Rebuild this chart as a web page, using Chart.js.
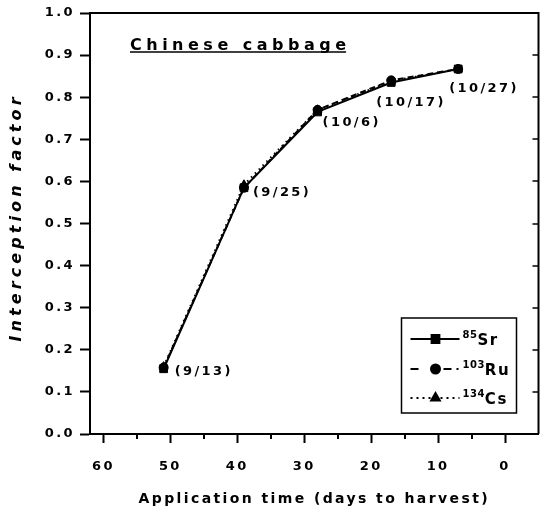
<!DOCTYPE html>
<html>
<head>
<meta charset="utf-8">
<script src="https://cdn.jsdelivr.net/npm/chart.js@4/dist/chart.umd.min.js"></script>
<style>
  html, body { margin: 0; padding: 0; background: #fff; }
  #wrap { width: 545px; height: 512px; }
</style>
</head>
<body>
<div id="wrap"><canvas id="c"></canvas></div>
<script>
// Application time, days before harvest, and the calendar date of each application
const daysToHarvest = [51, 39, 28, 17, 7];
const applicationDates = ['(9/13)', '(9/25)', '(10/6)', '(10/17)', '(10/27)'];

// Interception factor per radionuclide
const sr85  = [0.155, 0.585, 0.765, 0.835, 0.867];
const ru103 = [0.158, 0.585, 0.770, 0.840, 0.867];
const cs134 = [0.160, 0.592, 0.770, 0.838, 0.867];

// Legend labels: mass number and element
const isotopeMass = ['85', '103', '134'];
const isotopeElement = ['Sr', 'Ru', 'Cs'];

// Axis ticks
const xTickValues = [60, 50, 40, 30, 20, 10, 0];
const xMinorTickValues = [55, 45, 35, 25, 15, 5];
const yTickValues = [0, 0.1, 0.2, 0.3, 0.4, 0.5, 0.6, 0.7, 0.8, 0.9, 1.0];

const FAMILY = '"DejaVu Sans", Verdana, sans-serif';
const SPACING = '2.4px';
const Y_TITLE = 'Interception factor';
const Y_TITLE_SPACING = 4.1;

// offsets of each date label from its point (px)
const dateLabelOffsets = [[11, 3], [9, 5], [5, 11], [-15, 20], [-9, 20]];

const series = [sr85, ru103, cs134];
const styles = [
  { pointStyle: 'rect', pointRadius: 5.5, borderDash: [] },
  { pointStyle: 'circle', pointRadius: 4.5, borderDash: [6, 4] },
  { pointStyle: 'triangle', pointRadius: 5, borderDash: [1.5, 4] }
];

const datasets = series.map((vals, k) => ({
  label: isotopeMass[k] + isotopeElement[k],
  data: daysToHarvest.map((d, i) => ({ x: d, y: vals[i] })),
  borderColor: '#000',
  backgroundColor: '#000',
  borderWidth: 2,
  borderDash: styles[k].borderDash,
  pointStyle: styles[k].pointStyle,
  pointRadius: styles[k].pointRadius,
  pointBorderWidth: 1,
  tension: 0,
  fill: false
}));

// wide letter spacing used throughout
const letterSpacingPlugin = {
  id: 'letterSpacing',
  beforeLayout(chart) { chart.ctx.letterSpacing = SPACING; },
  beforeDraw(chart) { chart.ctx.letterSpacing = SPACING; }
};

// frame, inward right ticks, minor x ticks, titles, date labels and legend
const decorPlugin = {
  id: 'decor',
  afterDraw(chart) {
    const { ctx, chartArea: ca, scales } = chart;
    const xs = scales.x, ys = scales.y;
    ctx.save();
    ctx.strokeStyle = '#000';
    ctx.fillStyle = '#000';

    // top and right frame lines
    ctx.lineWidth = 2;
    ctx.beginPath();
    ctx.moveTo(ca.left, ca.top);
    ctx.lineTo(ca.right, ca.top);
    ctx.lineTo(ca.right, ca.bottom);
    ctx.stroke();

    // inward ticks on the right edge
    ctx.lineWidth = 1.5;
    ctx.beginPath();
    yTickValues.forEach(v => {
      const y = Math.round(ys.getPixelForValue(v));
      ctx.moveTo(ca.right, y);
      ctx.lineTo(ca.right - 6, y);
    });
    ctx.stroke();

    // minor x ticks
    ctx.lineWidth = 2;
    ctx.beginPath();
    xMinorTickValues.forEach(v => {
      const x = Math.round(xs.getPixelForValue(v));
      ctx.moveTo(x, ca.bottom);
      ctx.lineTo(x, ca.bottom + 5);
    });
    ctx.stroke();

    // y axis title, rotated
    ctx.save();
    ctx.letterSpacing = Y_TITLE_SPACING + 'px';
    ctx.font = 'italic bold 16px ' + FAMILY;
    ctx.textAlign = 'left';
    ctx.textBaseline = 'middle';
    const yw = ctx.measureText(Y_TITLE).width - Y_TITLE_SPACING;
    ctx.translate(17, (ca.top + ca.bottom) / 2 - 4);
    ctx.rotate(-Math.PI / 2);
    ctx.fillText(Y_TITLE, -yw / 2, 0);
    ctx.restore();

    // underlined title
    ctx.letterSpacing = '4.5px';
    ctx.font = 'bold 16px ' + FAMILY;
    ctx.textAlign = 'left';
    ctx.textBaseline = 'alphabetic';
    const title = 'Chinese cabbage';
    const tx = ca.left + 40, ty = 50;
    ctx.fillText(title, tx, ty);
    const tw = ctx.measureText(title).width - 4.5;
    ctx.lineWidth = 1.5;
    ctx.beginPath();
    ctx.moveTo(tx, ty + 2);
    ctx.lineTo(tx + tw, ty + 2);
    ctx.stroke();

    // date labels next to the points
    ctx.letterSpacing = SPACING;
    ctx.font = 'bold 13px ' + FAMILY;
    ctx.textBaseline = 'middle';
    applicationDates.forEach((txt, i) => {
      const px = xs.getPixelForValue(daysToHarvest[i]);
      const py = ys.getPixelForValue(sr85[i]);
      const [dx, dy] = dateLabelOffsets[i];
      ctx.fillText(txt, px + dx, py + dy);
    });

    // legend
    const bw = 115, bh = 95;
    const bx = ca.right - 22 - bw, by = ca.bottom - 21 - bh;
    ctx.lineWidth = 1.5;
    ctx.strokeRect(bx, by, bw, bh);
    const rows = [by + 21, by + 51, by + 80];
    const sampleDash = [[], [8, 25, 8, 5, 2, 60], [2, 4]];
    datasets.forEach((ds, k) => {
      const ry = rows[k];
      ctx.lineWidth = 2;
      ctx.setLineDash(sampleDash[k]);
      ctx.beginPath();
      ctx.moveTo(bx + 9, ry);
      ctx.lineTo(bx + 58, ry);
      ctx.stroke();
      ctx.setLineDash([]);
      Chart.helpers.drawPoint(ctx, {
        pointStyle: ds.pointStyle, radius: ds.pointRadius, borderWidth: 1, rotation: 0
      }, bx + 34, ry);
      ctx.letterSpacing = '0.5px';
      ctx.font = 'bold 10px ' + FAMILY;
      ctx.textBaseline = 'alphabetic';
      ctx.fillText(isotopeMass[k], bx + 61, ry - 1);
      const mw = ctx.measureText(isotopeMass[k]).width;
      ctx.letterSpacing = '1.5px';
      ctx.font = 'bold 15px ' + FAMILY;
      ctx.fillText(isotopeElement[k], bx + 61 + mw, ry + 6);
    });

    ctx.restore();
  }
};

new Chart(document.getElementById('c'), {
  type: 'line',
  data: { datasets },
  plugins: [letterSpacingPlugin, decorPlugin],
  options: {
    responsive: true,
    maintainAspectRatio: false,
    animation: false,
    layout: { padding: { top: 13, right: 5, left: 0, bottom: 0 } },
    plugins: { legend: { display: false }, tooltip: { enabled: false } },
    scales: {
      x: {
        type: 'linear',
        reverse: true,
        min: -5,
        max: 62,
        afterBuildTicks: s => { s.ticks = xTickValues.map(v => ({ value: v })); },
        afterFit: s => { s.height = 78; },
        ticks: {
          font: { family: FAMILY, size: 13, weight: 'bold' },
          color: '#000', padding: 16, maxRotation: 0, autoSkip: false,
          callback: v => String(v)
        },
        grid: { drawOnChartArea: false, drawTicks: true, tickLength: 9, tickWidth: 2, tickColor: '#000' },
        border: { display: true, color: '#000', width: 2 },
        title: {
          display: true, text: 'Application time (days to harvest)', color: '#000',
          font: { family: FAMILY, size: 14, weight: 'bold' },
          padding: { top: 0, bottom: 4 }
        }
      },
      y: {
        type: 'linear',
        min: 0,
        max: 1,
        afterBuildTicks: s => { s.ticks = yTickValues.map(v => ({ value: v })); },
        afterFit: s => { s.width = 90; },
        ticks: {
          font: { family: FAMILY, size: 13, weight: 'bold' },
          color: '#000', padding: 5, autoSkip: false,
          callback: v => Number(v).toFixed(1)
        },
        grid: { drawOnChartArea: false, drawTicks: true, tickLength: 10, tickWidth: 2, tickColor: '#000' },
        border: { display: true, color: '#000', width: 2 },
        title: { display: false }
      }
    }
  }
});
</script>
</body>
</html>
